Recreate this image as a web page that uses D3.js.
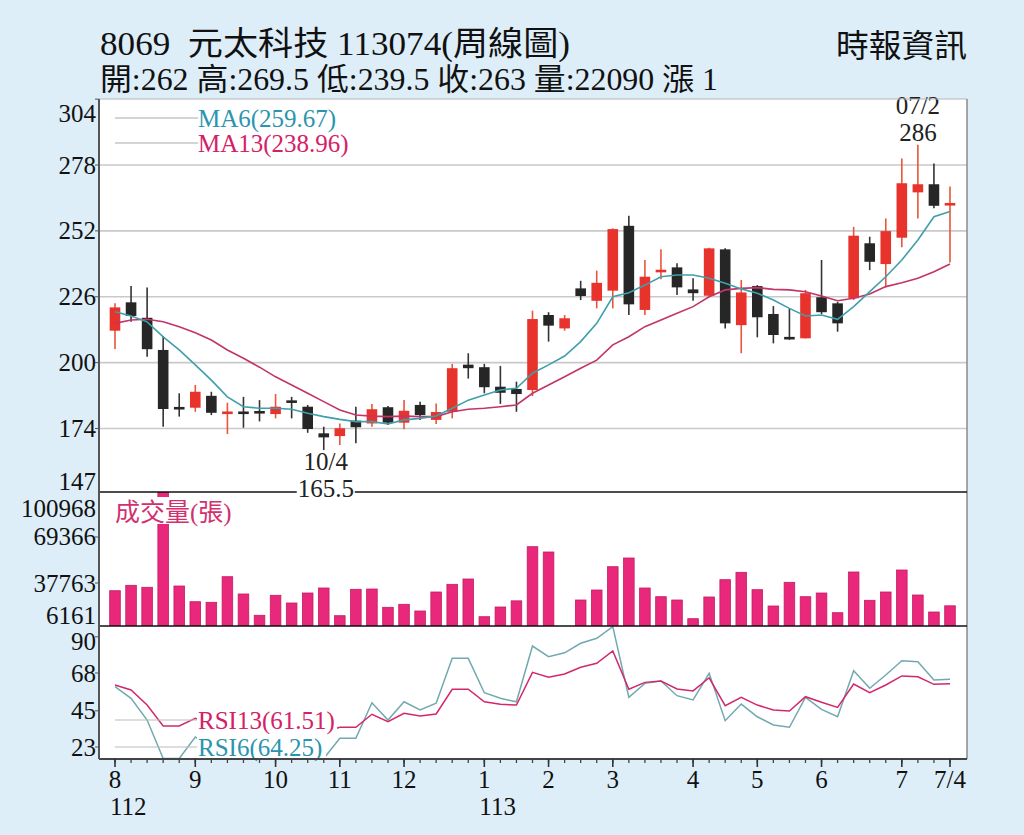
<!DOCTYPE html>
<html><head><meta charset="utf-8">
<script src="https://cdn.jsdelivr.net/npm/d3@7"></script>
<style>
html,body{margin:0;padding:0;background:#ddeef9;}
svg{display:block;}
text{font-family:"Liberation Serif","Noto Sans CJK TC",serif;white-space:pre;}
</style></head><body>
<svg id="c" width="1024" height="835"></svg>
<script>
// ---- data (weekly candles, 112/08 .. 113/07/04) ----
const opens  = [212.6,223.8,217.7,205,182,182.2,186.9,180.0,180.2,180.6,179.7,184.6,182.6,172.1,171,177.1,176,182.4,176.3,183.3,177.4,180.6,199.2,198.2,190.5,189.6,189.2,218.8,213.5,229.3,224.4,228.4,254,220.8,235.8,237.6,228.9,226.4,244.7,214.8,230.2,219.2,210,209.6,225.8,223.4,225.4,247.1,238.9,249.3,267.2,270.4,262];
const highs  = [223.4,230.2,229.7,210.5,187.9,191.2,188.5,184.2,186.5,185.2,187.6,186.5,183.3,174.7,176,182.6,183.7,182.9,185.2,184.6,183.9,199.5,203.7,199.5,198.7,192.5,220.5,219.9,218.8,232.3,236.3,253,258,240.5,244.7,239.2,233.3,245.3,245.1,232.6,230.6,222.3,221.4,228.7,240.5,224,253.6,249.7,256.9,280.6,286,278.6,269.5];
const lows   = [205.4,216.1,202.3,174.7,178.7,180.6,179.3,171.8,174.3,176.8,178,178,172.3,165.5,167.5,168.2,174.7,175.4,173.7,177.4,175.8,178,193.7,187.9,183.7,180.6,186.8,208.3,212.6,224.7,221.4,221.4,218.8,218.8,232.9,226.7,224.4,226,213.5,203.7,210,207.6,209,209.5,219.2,212.2,224.7,236.5,229.7,245.5,256.9,260.9,239.5];
const closes = [221.8,218.4,205.3,181.7,182,188.5,180.2,180.4,180.2,180.2,182.6,184.6,173.8,170.5,174.1,174.5,181.6,176.3,181,179.3,180.5,197.8,197.8,190.3,188.1,187.6,217.2,214.6,217.5,226.3,231.5,252.7,223,233.9,236.5,229.7,227.4,245.1,215.5,227.7,217.9,210.9,209.3,227.4,219.9,215.5,250.1,239.8,251.9,270.8,270.4,261.9,263];
const volumes= [32470,36180,34810,104500,35700,24920,24500,42090,30210,15570,29310,24020,30890,34330,15300,33440,33640,21070,23130,18530,31580,36870,40510,14610,21280,25500,62700,59060,6161,26080,32950,48960,54940,34330,28350,26080,13240,28150,40030,45110,33160,21960,38240,28350,30890,17360,45320,25880,31580,46690,29520,17840,22090];
const ma6    = [220.1,218.4,216.1,210.2,205,199.1,193.1,186.5,182.6,182,182,181.6,180,178.7,177.6,176.7,176.7,175.8,177.4,178,178.9,182,185.2,187.2,189.2,189.9,195.8,199.1,202.6,208.3,215.5,226,227.6,230.6,233.9,234.6,234.6,233.3,231.3,229.1,227.4,224.7,221.4,218.4,218.8,217.1,222.1,228,233.9,240.5,248.4,257.6,259.67];
const ma13   = [215.5,216.8,217.1,216.1,214.2,211.8,208.9,205,201.7,198.2,194.4,191.2,187.9,184.6,181.3,179.3,178.9,178.7,178.9,178.7,178.7,180.6,181.6,182,182.6,183.3,187.9,191.2,194.4,197.8,201,207,210.2,214.2,216.8,219.5,222.1,226,228.7,229.3,229.6,228.9,228.7,228,226.3,224.4,225.4,227.1,230,231.5,233.3,235.9,238.96];
const rsi6   = [59.7,52.6,39.4,16,16,29.1,22,20,20,21,28,35,20,16,28.3,28.3,49.9,39.4,50.5,45.5,49.6,76.9,76.9,56,52.6,50.5,84.4,77.9,80.3,86.1,89.1,96.2,53.2,61.7,63.1,54.2,51.6,67.8,39,49.1,41.4,36.4,35,53.2,45.9,41.4,69.4,58.7,66.8,75.5,74.9,63.7,64.25];
const rsi13  = [60.7,57.7,48.5,35.8,35.8,40.4,36,35,35,35.5,37,39,34,32,35,35,42.9,38.4,43.5,41.8,43.1,58.1,58.1,50.5,49,48.5,68.4,65.4,67.4,71.5,73.9,81.4,58.1,62.3,63.1,58.3,57.1,65.1,48.1,53.2,48.5,45.5,44.9,53.6,50.2,47.1,61.3,56,60.7,66.2,65.7,61.1,61.51];
const monthTickIdx = [0,5,10,14,18,23,27,31,36,40,44,49,52];
const monthLabels  = ["8","9","10","11","12","1","2","3","4","5","6","7","7/4"];
const yearIdx      = [0,23];
const yearLabels   = ["112","113"];
const priceTicks = [304,278,252,226,200,174,147];
const volTicks   = [100968,69366,37763,6161];
const rsiTicks   = [90,68,45,23];
const titleText = "8069  元太科技 113074(周線圖)";
const infoText  = "開:262 高:269.5 低:239.5 收:263 量:22090 漲 1";
const sourceText = "時報資訊";
const hiLabel = ["07/2","286"], hiIdx = 50;
const loLabel = ["10/4","165.5"], loIdx = 13;

// ---- layout ----
const L=99,R=967,pTop=99,pBot=492,vBot=626,rBot=759;
const N = closes.length;
const svg = d3.select("#c");
const x  = d3.scaleLinear().domain([0,N-1]).range([115,950]);
const yP = d3.scaleLinear().domain([174,278]).range([428.5,165]);
const yV = d3.scaleLinear().domain([6161,100968]).range([629,491]);
const yR = d3.scaleLinear().domain([23,68]).range([747,673]);
const RED="#e8322c", BLK="#262626";

svg.append("rect").attr("width",1024).attr("height",835).attr("fill","#ddeef9");
svg.append("rect").attr("x",L).attr("y",pTop).attr("width",R-L).attr("height",rBot-pTop).attr("fill","#fff");

const defs = svg.append("defs");
defs.append("clipPath").attr("id","cp").append("rect").attr("x",L).attr("y",pTop).attr("width",R-L).attr("height",pBot-pTop);
defs.append("clipPath").attr("id","cv").append("rect").attr("x",L).attr("y",pBot).attr("width",R-L).attr("height",vBot-pBot);
defs.append("clipPath").attr("id","cr").append("rect").attr("x",L).attr("y",vBot).attr("width",R-L).attr("height",rBot-vBot);

// grid
svg.append("g").selectAll("line").data(priceTicks.filter(t=>yP(t)>pTop+3&&yP(t)<pBot-3)).join("line")
  .attr("x1",L).attr("x2",R).attr("y1",d=>yP(d)).attr("y2",d=>yP(d)).attr("stroke","#c9c9c9").attr("stroke-width",1.6);

// ---- price panel ----
const gp = svg.append("g").attr("clip-path","url(#cp)");
const idx = d3.range(N);
gp.selectAll("line.w").data(idx).join("line").attr("class","w")
  .attr("x1",i=>x(i)).attr("x2",i=>x(i)).attr("y1",i=>yP(highs[i])).attr("y2",i=>yP(lows[i]))
  .attr("stroke",i=>closes[i]>opens[i]?"#e8553a":"#333").attr("stroke-width",1.6);
gp.selectAll("rect.b").data(idx).join("rect").attr("class","b")
  .attr("x",i=>x(i)-5.3).attr("width",10.6)
  .attr("y",i=>{const a=yP(Math.max(opens[i],closes[i])),b=yP(Math.min(opens[i],closes[i]));return b-a<2.6?(a+b)/2-1.3:a;})
  .attr("height",i=>Math.max(2.6,yP(Math.min(opens[i],closes[i]))-yP(Math.max(opens[i],closes[i]))))
  .attr("fill",i=>closes[i]>opens[i]?RED:BLK);
const lineP = arr => d3.line().x((d,i)=>x(i)).y(d=>yP(d))(arr);
gp.append("path").attr("d",lineP(ma13)).attr("fill","none").attr("stroke","#c2346a").attr("stroke-width",1.6);
gp.append("path").attr("d",lineP(ma6)).attr("fill","none").attr("stroke","#3f9fab").attr("stroke-width",1.6);

// legend MA
[[ "MA6(259.67)", "#2a95ad", 118],[ "MA13(238.96)","#d42166",143]].forEach(([t,c,yy])=>{
  svg.append("line").attr("x1",115).attr("x2",198).attr("y1",yy).attr("y2",yy).attr("stroke","#aaa").attr("stroke-width",1.2);
  svg.append("text").attr("x",198).attr("y",yy+8.5).attr("font-size",25).attr("fill",c).text(t);
});

// hi / lo annotations
svg.append("text").attr("x",x(hiIdx)).attr("y",114).attr("text-anchor","middle").attr("font-size",25).attr("fill","#222").text(hiLabel[0]);
svg.append("text").attr("x",x(hiIdx)).attr("y",141).attr("text-anchor","middle").attr("font-size",25).attr("fill","#222").text(hiLabel[1]);

// ---- volume panel ----
const gv = svg.append("g").attr("clip-path","url(#cv)");
gv.selectAll("rect").data(idx).join("rect")
  .attr("x",i=>x(i)-5.3).attr("width",10.6)
  .attr("y",i=>Math.min(vBot,Math.max(pBot,yV(volumes[i]))))
  .attr("height",i=>Math.max(0,vBot-Math.max(pBot,yV(volumes[i]))))
  .attr("fill","#e9287b").attr("stroke","#c21d63").attr("stroke-width",0.8);
svg.append("rect").attr("x",113).attr("y",497).attr("width",129).attr("height",27).attr("fill","#fff");
svg.append("text").attr("x",115).attr("y",521).attr("font-size",25).attr("fill","#d2306e").text("成交量(張)");

// ---- RSI panel ----
const gr = svg.append("g").attr("clip-path","url(#cr)");
const lineR = arr => d3.line().x((d,i)=>x(i)).y(d=>yR(d))(arr);
gr.append("path").attr("d",lineR(rsi6)).attr("fill","none").attr("stroke","#72a9b0").attr("stroke-width",1.5);
gr.append("path").attr("d",lineR(rsi13)).attr("fill","none").attr("stroke","#d3276b").attr("stroke-width",1.5);
[["RSI13(61.51)","#d42166",720,708,140,27],["RSI6(64.25)","#2a95ad",747,734,129,24.5]].forEach(([t,c,yy,by,bw,bh])=>{
  svg.append("line").attr("x1",115).attr("x2",198).attr("y1",yy).attr("y2",yy).attr("stroke","#bbb").attr("stroke-width",1.2);
  svg.append("rect").attr("x",197).attr("y",by).attr("width",bw).attr("height",bh).attr("fill","#fff");
  svg.append("text").attr("x",198).attr("y",yy+9).attr("font-size",25).attr("fill",c).text(t);
});

// ---- frame ----
svg.append("line").attr("x1",L).attr("x2",R).attr("y1",pTop).attr("y2",pTop).attr("stroke","#b5b5b5").attr("stroke-width",1.2);
svg.append("line").attr("x1",R).attr("x2",R).attr("y1",pTop).attr("y2",rBot).attr("stroke","#8a8a8a").attr("stroke-width",1.5);
[pBot,vBot].forEach(yy=>svg.append("line").attr("x1",L).attr("x2",R).attr("y1",yy).attr("y2",yy).attr("stroke","#111").attr("stroke-width",1.6));
svg.append("line").attr("x1",L).attr("x2",R).attr("y1",rBot).attr("y2",rBot).attr("stroke","#444").attr("stroke-width",2);
svg.append("line").attr("x1",L).attr("x2",L).attr("y1",pTop).attr("y2",rBot).attr("stroke","#555").attr("stroke-width",2);

// low annotation (over frame line)
svg.append("text").attr("x",x(loIdx)+2).attr("y",470).attr("text-anchor","middle").attr("font-size",25).attr("fill","#222").text(loLabel[0]);
svg.append("rect").attr("x",x(loIdx)-27).attr("y",480).attr("width",58).attr("height",18).attr("fill","#fff");
svg.append("text").attr("x",x(loIdx)+2).attr("y",497).attr("text-anchor","middle").attr("font-size",25).attr("fill","#222").text(loLabel[1]);

// ---- y tick labels ----
const clamp=(v,a,b)=>Math.max(a,Math.min(b,v));
const yl = svg.append("g").attr("font-size",25).attr("fill","#111").attr("text-anchor","end");
priceTicks.forEach(t=>{ yl.append("text").attr("x",96).attr("y",clamp(yP(t),113,481)+8.5).text(t);
  if(yP(t)>pTop&&yP(t)<pBot) svg.append("line").attr("x1",L-4).attr("x2",L).attr("y1",yP(t)).attr("y2",yP(t)).attr("stroke","#555"); });
volTicks.forEach(t=>{ yl.append("text").attr("x",96).attr("y",clamp(yV(t),508,615)+8.5).text(t);
  if(yV(t)>pBot&&yV(t)<vBot) svg.append("line").attr("x1",L-4).attr("x2",L).attr("y1",yV(t)).attr("y2",yV(t)).attr("stroke","#555"); });
rsiTicks.forEach(t=>{ yl.append("text").attr("x",96).attr("y",clamp(yR(t),641,747)+8.5).text(t);
  if(yR(t)>vBot&&yR(t)<rBot) svg.append("line").attr("x1",L-4).attr("x2",L).attr("y1",yR(t)).attr("y2",yR(t)).attr("stroke","#555"); });

// ---- x axis ----
const xa = svg.append("g");
xa.selectAll("line.mi").data(idx).join("line").attr("class","mi")
  .attr("x1",i=>x(i)).attr("x2",i=>x(i)).attr("y1",rBot).attr("y2",rBot+4).attr("stroke","#444").attr("stroke-width",1.3);
xa.selectAll("line.ma").data(monthTickIdx).join("line").attr("class","ma")
  .attr("x1",i=>x(i)).attr("x2",i=>x(i)).attr("y1",rBot).attr("y2",rBot+8).attr("stroke","#333").attr("stroke-width",1.6);
xa.selectAll("text.m").data(monthTickIdx).join("text").attr("class","m")
  .attr("x",i=>x(i)).attr("y",788).attr("text-anchor","middle").attr("font-size",25).attr("fill","#111")
  .text((d,k)=>monthLabels[k]);
xa.selectAll("text.y").data(yearIdx).join("text").attr("class","y")
  .attr("x",i=>x(i)-5).attr("y",815).attr("font-size",25).attr("fill","#111")
  .text((d,k)=>yearLabels[k]);

// ---- header ----
svg.append("text").attr("x",100).attr("y",55).attr("font-size",33).attr("fill","#111")
  .attr("textLength",470).attr("lengthAdjust","spacingAndGlyphs").text(titleText);
svg.append("text").attr("x",100).attr("y",90).attr("font-size",31).attr("fill","#111")
  .attr("textLength",618).attr("lengthAdjust","spacingAndGlyphs").text(infoText);
svg.append("text").attr("x",836).attr("y",57).attr("font-size",32).attr("fill","#111")
  .attr("textLength",131).attr("lengthAdjust","spacingAndGlyphs").text(sourceText);
</script>
</body></html>
